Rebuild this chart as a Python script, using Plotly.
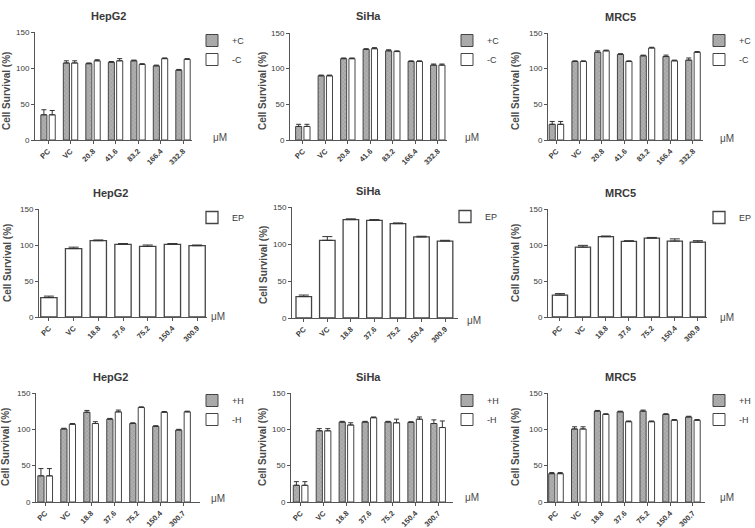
import plotly.graph_objects as go

W, H = 755, 528

# ---------------- data ----------------
cats_C = ["PC", "VC", "20.8", "41.6", "83.2", "166.4", "332.8"]
cats_EP = ["PC", "VC", "18.8", "37.6", "75.2", "150.4", "300.9"]
cats_H = ["PC", "VC", "18.8", "37.6", "75.2", "150.4", "300.7"]

# Row 1: +C / -C
hepg2_plusC = [35, 107, 106, 108, 110, 103, 97]
hepg2_plusC_err = [7, 3, 1, 1, 1, 1, 1]
hepg2_minusC = [35, 107, 110, 110, 105, 113, 112]
hepg2_minusC_err = [6, 3, 1.5, 3, 1, 1, 1]

siha_plusC = [19, 90, 114, 127, 125, 110, 105]
siha_plusC_err = [3, 1, 1, 1, 1.5, 1, 1.5]
siha_minusC = [19, 90, 114, 128, 124, 110, 105]
siha_minusC_err = [3, 1, 1, 1.5, 1, 1, 1.5]

mrc5_plusC = [22, 110, 123, 120, 118, 117, 112]
mrc5_plusC_err = [4, 1, 2, 1, 1, 2, 3]
mrc5_minusC = [22, 110, 125, 110, 129, 111, 123]
mrc5_minusC_err = [4, 1, 1, 1, 1, 1, 1]

# Row 2: EP
hepg2_EP = [27, 95, 106, 101, 98, 101, 99]
hepg2_EP_err = [2, 2, 1, 1, 2, 1, 1]
siha_EP = [29, 105, 133, 132, 127.5, 109.5, 104]
siha_EP_err = [2, 5, 1, 1, 1, 1, 1]
mrc5_EP = [30.5, 97, 111.5, 105, 109.5, 105.5, 104]
mrc5_EP_err = [2, 2.5, 1, 1, 1, 3, 2]

# Row 3: +H / -H
hepg2_plusH = [36, 100.5, 123.5, 114, 108, 104, 99]
hepg2_plusH_err = [10, 1, 2.5, 1, 1, 1, 1]
hepg2_minusH = [36, 107, 108, 124, 130, 123.5, 124]
hepg2_minusH_err = [10, 1, 2.5, 2.5, 1, 1, 1]
siha_plusH = [23, 98, 110, 110, 110, 109.5, 108]
siha_plusH_err = [5, 3, 1, 1, 1, 1, 5]
siha_minusH = [23, 98, 106, 116, 109, 114, 102.5]
siha_minusH_err = [5, 3, 3, 1, 5, 3, 9]
mrc5_plusH = [39, 100.5, 125, 124, 125, 120.5, 117]
mrc5_plusH_err = [1.5, 3, 1, 1, 1.5, 1, 1]
mrc5_minusH = [39, 100.5, 120.5, 110.5, 110.5, 112.5, 112.5]
mrc5_minusH_err = [1.5, 3, 1, 1, 1, 1, 1]

titles = ["HepG2", "SiHa", "MRC5"] * 3
y_title = "Cell Survival (%)"
unit = "μM"

# panel series: (name, values, errors, patterned)
panels = [
    (cats_C, [("+C", hepg2_plusC, hepg2_plusC_err, True), ("-C", hepg2_minusC, hepg2_minusC_err, False)]),
    (cats_C, [("+C", siha_plusC, siha_plusC_err, True), ("-C", siha_minusC, siha_minusC_err, False)]),
    (cats_C, [("+C", mrc5_plusC, mrc5_plusC_err, True), ("-C", mrc5_minusC, mrc5_minusC_err, False)]),
    (cats_EP, [("EP", hepg2_EP, hepg2_EP_err, False)]),
    (cats_EP, [("EP", siha_EP, siha_EP_err, False)]),
    (cats_EP, [("EP", mrc5_EP, mrc5_EP_err, False)]),
    (cats_H, [("+H", hepg2_plusH, hepg2_plusH_err, True), ("-H", hepg2_minusH, hepg2_minusH_err, False)]),
    (cats_H, [("+H", siha_plusH, siha_plusH_err, True), ("-H", siha_minusH, siha_minusH_err, False)]),
    (cats_H, [("+H", mrc5_plusH, mrc5_plusH_err, True), ("-H", mrc5_minusH, mrc5_minusH_err, False)]),
]

# ---------------- layout geometry (pixels) ----------------
# x0, x1, ytop(150), ybottom(0)
doms = [
    (35, 192, 32, 140), (290, 447, 33, 140), (548, 703, 33, 140),
    (39, 207, 209, 317), (292, 458, 207, 318), (548, 707, 209, 317),
    (36, 200, 393, 502), (291, 453, 393, 502), (548, 705, 393, 502),
]
xranges = [
    (-0.58, 6.4), (-0.57, 6.41), (-0.37, 6.44),
    (-0.4, 6.4), (-0.5, 6.55), (-0.52, 6.4),
    (-0.4, 6.74), (-0.42, 6.65), (-0.35, 6.53),
]
title_pos = [(108, 16), (368, 16), (620, 17), (110, 193), (368, 191), (620, 193),
             (110, 377), (368, 377), (620, 377)]
ytitle_pos = [(6, 91), (262, 91), (515, 91), (7, 263), (263, 265), (515, 263),
              (5, 447), (262, 447), (515, 447)]
unit_pos = [(211, 137), (463, 137), (718, 138), (209, 316), (465, 320), (718, 317),
            (209, 498), (463, 497), (718, 497)]
legend_pos = [(210, 26), (465, 26), (717, 26), (210, 203), (463, 202), (717, 203),
              (210, 386), (465, 386), (717, 386)]

FONT = "Liberation Sans, Arial, sans-serif"
TXT = "#3a3a3a"
EDGE = "#444444"

fig = go.Figure()
layout = dict(
    width=W, height=H,
    margin=dict(l=0, r=0, t=0, b=0, autoexpand=False),
    paper_bgcolor="white", plot_bgcolor="white",
    barmode="overlay",
    font=dict(family=FONT, color=TXT),
    annotations=[],
)

for i, (cats, series) in enumerate(panels):
    n = i + 1
    xa = "x" if n == 1 else f"x{n}"
    ya = "y" if n == 1 else f"y{n}"
    lg = "legend" if n == 1 else f"legend{n}"
    grouped = len(series) == 2
    for j, (name, vals, errs, patterned) in enumerate(series):
        if grouped:
            width = 0.27
            offset = -0.32 if j == 0 else 0.05
        else:
            width = 0.66
            offset = -0.33
        marker = dict(
            color="#a3a3a3" if patterned else "white",
            line=dict(color=EDGE, width=1 if grouped else 1.3),
        )
        if patterned:
            marker["pattern"] = dict(shape="x", fgcolor="#6e6e6e", bgcolor="#b0b0b0",
                                     size=3, solidity=0.25)
        fig.add_trace(go.Bar(
            x=cats, y=vals, name=name, width=width, offset=offset,
            marker=marker, xaxis=xa, yaxis=ya, legend=lg,
            error_y=dict(type="data", array=errs, arrayminus=[0] * len(errs),
                         symmetric=False, color="#333333", thickness=1,
                         width=2.5 if grouped else 5),
            hoverinfo="skip",
        ))

    x0, x1, yt, yb = doms[i]
    axis_common = dict(showline=True, linecolor="#555555", linewidth=1, ticks="outside",
                       ticklen=3, tickcolor="#555555", showgrid=False, zeroline=False)
    layout["xaxis" if n == 1 else f"xaxis{n}"] = dict(
        domain=[x0 / W, x1 / W], anchor=ya, type="category",
        range=list(xranges[i]), tickangle=-45,
        tickfont=dict(size=7.5, family=FONT, color=TXT, weight="bold"),
        categoryorder="array", categoryarray=cats, **axis_common)
    layout["yaxis" if n == 1 else f"yaxis{n}"] = dict(
        domain=[1 - yb / H, 1 - yt / H], anchor=xa, range=[0, 150],
        tickvals=[0, 50, 100, 150], tickfont=dict(size=8, family=FONT, color=TXT),
        **axis_common)

    lx, ly = legend_pos[i]
    layout[lg] = dict(
        x=(lx - 18) / W, y=1 - ly / H, xref="container", yref="container",
        xanchor="left", yanchor="top", bgcolor="rgba(0,0,0,0)",
        font=dict(size=9, family=FONT, color=TXT), itemwidth=30,
        tracegroupgap=0, traceorder="normal",
    )

    tx, ty = title_pos[i]
    layout["annotations"].append(dict(
        x=tx / W, y=1 - ty / H, xref="paper", yref="paper", text=f"<b>{titles[i]}</b>",
        showarrow=False, font=dict(size=11, family=FONT, color=TXT),
        xanchor="center", yanchor="middle"))
    yx, yy = ytitle_pos[i]
    layout["annotations"].append(dict(
        x=yx / W, y=1 - yy / H, xref="paper", yref="paper", text=f"<b>{y_title}</b>",
        showarrow=False, textangle=-90, font=dict(size=10, family=FONT, color="#4a4a4a"),
        xanchor="center", yanchor="middle"))
    ux, uy = unit_pos[i]
    layout["annotations"].append(dict(
        x=ux / W, y=1 - uy / H, xref="paper", yref="paper", text=unit,
        showarrow=False, font=dict(size=10, family=FONT, color="#4a4a4a"),
        xanchor="left", yanchor="middle"))

fig.update_layout(**layout)
fig.write_html("out.html")
